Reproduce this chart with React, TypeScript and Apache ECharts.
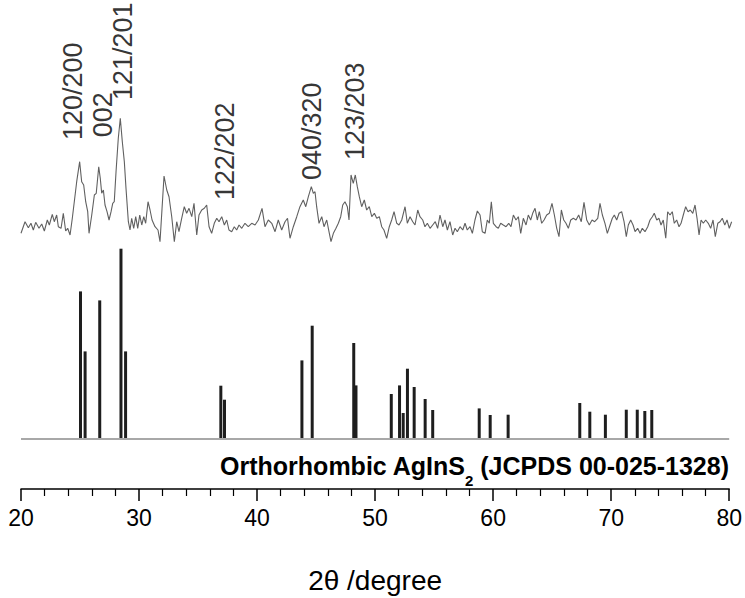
import React, { useEffect, useRef } from 'react';
import * as echarts from 'echarts';

// Measured XRD pattern: [2θ (degree), intensity (a.u.)]
const trace: [number, number][] = [
  [20.00,11.7],[20.34,23.3],[20.62,17.3],[20.84,21.7],[21.04,15],[21.24,22.7],[21.52,16.7],[21.75,21],[21.97,14],[22.22,25],[22.39,20],[22.64,30.7],[22.81,23.3],[23.01,30],[23.15,18.3],[23.38,16.7],[23.57,31.7],[23.77,14],[23.94,16.7],[24.14,10],[24.33,26.7],[24.70,63.3],[24.95,83.3],[25.12,63.3],[25.29,60],[25.46,43.3],[25.63,33.3],[25.74,11.7],[25.97,30],[26.19,50],[26.35,51.7],[26.56,78.3],[26.69,66.7],[26.81,51.7],[26.95,55],[27.09,40],[27.26,33.3],[27.43,25],[27.60,33.3],[27.74,41.7],[27.87,43.3],[28.02,73.3],[28.21,106.7],[28.38,126.7],[28.55,103.3],[28.72,83.3],[28.86,56.7],[29.06,23.3],[29.20,15],[29.34,26.7],[29.51,16.7],[29.68,28.3],[29.85,16.7],[30.02,30],[30.19,20],[30.36,28.3],[30.52,21.7],[30.72,43.3],[30.89,35],[31.06,25],[31.31,18.3],[31.56,15],[31.73,3.3],[32.07,69],[32.30,55],[32.49,48.3],[32.72,28.3],[32.94,3.3],[33.14,23.3],[33.33,13.3],[33.56,26.7],[33.78,38.3],[33.98,31.7],[34.18,36.7],[34.41,28.3],[34.60,41.7],[34.83,10],[35.02,30],[35.25,35],[35.47,36.7],[35.67,40],[35.87,18.3],[36.09,11.7],[36.31,21.7],[36.52,26.7],[36.71,23.3],[36.94,28.3],[37.16,20],[37.36,25],[37.55,15],[37.78,13.3],[38.00,18.3],[38.20,15],[38.40,20],[38.63,16.7],[38.90,21.7],[39.18,18.3],[39.47,21.7],[39.75,20],[40.03,25],[40.34,36.7],[40.59,18.3],[40.87,25],[41.16,21.7],[41.44,13.3],[41.71,25],[42.00,15],[42.28,23.3],[42.49,26.7],[42.70,6.7],[42.98,18.3],[43.27,28.3],[43.54,38.3],[43.82,45],[44.03,38.3],[44.25,48.3],[44.50,58.3],[44.67,51.7],[44.81,53.3],[44.95,38.3],[45.15,21.7],[45.38,28.3],[45.57,18.3],[45.80,25],[45.99,13.3],[46.16,3.3],[46.36,11.7],[46.58,16.7],[46.78,21.7],[46.98,28.3],[47.15,40],[47.34,43.3],[47.54,38.3],[47.68,25],[47.85,70],[48.04,61.7],[48.21,70],[48.38,58.3],[48.55,48.3],[48.75,38.3],[48.97,45],[49.17,35],[49.39,38.3],[49.60,28.3],[49.82,31.7],[50.02,26.7],[50.24,28.3],[50.44,18.3],[50.63,15],[50.86,6.7],[51.08,18.3],[51.28,25],[51.48,33.3],[51.71,21.7],[51.90,20],[52.13,25],[52.41,38.3],[52.60,21.7],[52.83,28.3],[53.06,23.3],[53.25,20],[53.48,35],[53.67,28.3],[53.90,25],[54.09,18.3],[54.29,21.7],[54.52,16.7],[54.74,20],[54.96,23.3],[55.16,16.7],[55.36,30],[55.59,18.3],[55.78,25],[55.98,15],[56.20,23.3],[56.43,10],[56.63,16.7],[56.82,13.3],[57.05,18.3],[57.28,15],[57.47,21.7],[57.66,15],[57.89,18.3],[58.09,11.7],[58.31,25],[58.51,34],[58.74,30],[58.93,13.3],[59.16,11.7],[59.35,25],[59.52,21.7],[59.69,43.3],[59.86,21.7],[60.09,18.3],[60.28,16.7],[60.48,21.7],[60.70,20],[60.93,18.3],[61.16,21.7],[61.35,18.3],[61.55,30],[61.77,25],[61.97,28.3],[62.17,11.7],[62.39,26.7],[62.62,20],[62.81,30],[63.01,25],[63.18,31.7],[63.38,36.7],[63.57,25],[63.74,33.3],[63.94,21.7],[64.14,25],[64.36,30],[64.58,31.7],[64.81,41.7],[65.01,30],[65.21,16.7],[65.40,8.3],[65.60,35],[65.80,25],[65.99,21.7],[66.19,16.7],[66.39,25],[66.61,26.7],[66.84,25],[67.06,30],[67.28,23.3],[67.51,42.7],[67.74,25],[67.96,20],[68.19,25],[68.41,23.3],[68.67,26.7],[68.86,41.7],[69.06,30],[69.28,21.7],[69.48,11.7],[69.71,20],[69.90,26.7],[70.07,30],[70.27,25],[70.47,31.7],[70.69,33.3],[70.89,23.3],[71.08,8.3],[71.25,20],[71.45,25],[71.65,20],[71.82,13.3],[72.04,16.7],[72.24,11.7],[72.43,16.7],[72.66,13.3],[72.89,18.3],[73.08,25],[73.28,28.3],[73.44,31.7],[73.65,25],[73.84,26.7],[74.01,20],[74.20,25],[74.41,6.7],[74.57,33.3],[74.77,30],[74.96,33.3],[75.13,21.7],[75.33,25],[75.53,18.3],[75.70,21.7],[75.89,30],[76.09,38.3],[76.29,33.3],[76.48,35],[76.69,31.7],[76.88,40],[77.05,26.7],[77.22,10],[77.39,25],[77.58,21.7],[77.78,25],[78.00,21.7],[78.20,16.7],[78.40,25],[78.59,8.3],[78.80,21.7],[78.99,23.3],[79.18,26.7],[79.39,20],[79.58,25],[79.77,16.7],[79.97,23.3]
];

// Reference pattern (JCPDS 00-025-1328) stick positions and heights
const stickDeg = [25.04,25.43,26.67,28.47,28.86,36.93,37.24,43.80,44.67,48.19,48.38,51.37,52.07,52.38,52.74,53.31,54.24,54.88,58.82,59.75,61.27,67.34,68.19,69.51,71.28,72.21,72.85,73.44];
const stickInt = [147.6,87.6,138.6,190.3,87.6,53.3,39.3,78.6,113.3,96,53.6,45,53.6,26,70.3,52,40,29,30.6,24,24.3,36,27.3,24.3,29.3,29.3,28,29];

// Peak (hkl) annotations
const peakLabels = ['120/200', '002', '121/201', '122/202', '040/320', '123/203'];
const peakLabelDeg = [24.39, 26.88, 28.63, 37.22, 44.53, 48.19];
const peakLabelInt = [105, 107.7, 145, 45, 65, 85];

const xMin = 20;
const xMax = 80;
const xInterval = 10;

const FONT = '"Liberation Sans", Arial, Helvetica, sans-serif';

export default function App() {
  const ref = useRef<HTMLDivElement>(null);

  useEffect(() => {
    if (!ref.current) return;
    const chart = echarts.init(ref.current, undefined, { renderer: 'svg' });

    const option: any = {
      animation: false,
      backgroundColor: '#ffffff',
      grid: [
        { left: 21, right: 13, top: 0, height: 245 },
        { left: 21, right: 13, top: 240, height: 249 },
      ],
      xAxis: [
        { gridIndex: 0, type: 'value', min: xMin, max: xMax, show: false },
        {
          gridIndex: 1,
          type: 'value',
          min: xMin,
          max: xMax,
          interval: xInterval,
          axisLine: { show: true, onZero: false, lineStyle: { color: '#000', width: 1.5 } },
          axisTick: { show: true, inside: false, length: 12, lineStyle: { color: '#000', width: 1.5 } },
          minorTick: { show: true, splitNumber: 5, length: 7, lineStyle: { color: '#000', width: 1.2 } },
          splitLine: { show: false },
          axisLabel: { fontSize: 23, color: '#000', margin: 17, fontFamily: FONT },
          name: '2θ /degree',
          nameLocation: 'middle',
          nameGap: 77,
          nameTextStyle: { fontSize: 28, color: '#000', fontFamily: FONT },
        },
      ],
      yAxis: [
        { gridIndex: 0, type: 'value', min: 0, max: 245, show: false },
        { gridIndex: 1, type: 'value', min: -50, max: 199, show: false },
      ],
      series: [
        {
          type: 'line',
          xAxisIndex: 0,
          yAxisIndex: 0,
          data: trace,
          showSymbol: false,
          symbol: 'none',
          lineStyle: { color: '#606060', width: 1.1 },
          silent: true,
        },
        {
          type: 'scatter',
          xAxisIndex: 0,
          yAxisIndex: 0,
          symbolSize: 0,
          silent: true,
          clip: false,
          data: peakLabels.map((n, i) => ({ name: n, value: [peakLabelDeg[i], peakLabelInt[i]] })),
          label: {
            show: true,
            position: 'inside',
            rotate: 90,
            align: 'left',
            verticalAlign: 'middle',
            formatter: (p: any) => p.name,
            fontSize: 27,
            color: '#000',
            fontFamily: FONT,
          },
        },
        {
          type: 'bar',
          xAxisIndex: 1,
          yAxisIndex: 1,
          barWidth: 3,
          data: stickDeg.map((d, i) => [d, stickInt[i]]),
          itemStyle: { color: '#1e1e1e' },
          silent: true,
          markLine: {
            silent: true,
            symbol: 'none',
            label: { show: false },
            lineStyle: { color: '#a8a8a8', width: 2, type: 'solid' },
            data: [{ yAxis: 0 }],
          },
          z: 3,
        },
      ],
      graphic: [
        {
          type: 'text',
          x: 729,
          y: 466,
          style: {
            text: '{a|Orthorhombic AgInS}{s|2}{a| (JCPDS 00-025-1328)}',
            align: 'right',
            verticalAlign: 'middle',
            rich: {
              a: { fontSize: 25, fontWeight: 'bold', fill: '#000', fontFamily: FONT },
              s: { fontSize: 15, fontWeight: 'bold', fill: '#000', fontFamily: FONT, padding: [28, 0, 0, 0] },
            },
          },
        },
      ],
    };

    chart.setOption(option);
    return () => chart.dispose();
  }, []);

  return (
    <div
      ref={ref}
      style={{ position: 'fixed', left: 0, top: 0, width: 745, height: 598, background: '#fff' }}
    />
  );
}
